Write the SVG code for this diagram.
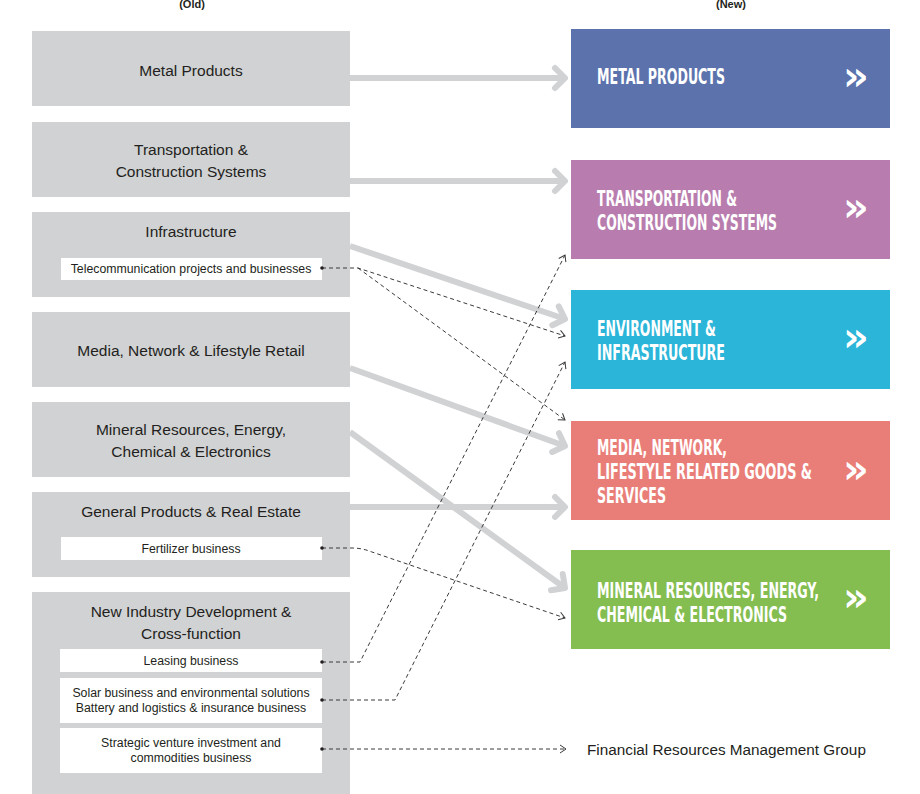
<svg xmlns="http://www.w3.org/2000/svg" width="920" height="794" viewBox="0 0 920 794">
<style>
.old{fill:#d1d2d4}
.sub{fill:#ffffff}
.lt{font-family:"Liberation Sans",Arial,sans-serif;font-size:15.5px;fill:#231f20;text-anchor:middle}
.st{font-family:"Liberation Sans",Arial,sans-serif;font-size:12.3px;fill:#231f20;text-anchor:middle}
.hd{font-family:"Liberation Sans",Arial,sans-serif;font-size:11px;font-weight:bold;fill:#231f20;text-anchor:middle}
.nt{font-family:"DejaVu Sans Condensed","DejaVu Sans",sans-serif;font-stretch:condensed;font-size:21px;font-weight:bold;fill:#ffffff}
.ch{font-family:"DejaVu Sans",sans-serif;font-size:40px;font-weight:bold;fill:#ffffff;text-anchor:middle}
.fin{font-family:"Liberation Sans",Arial,sans-serif;font-size:15.3px;fill:#231f20}
.thick{fill:none;stroke:#d1d2d4;stroke-width:6;marker-end:url(#ga)}
.dash{fill:none;stroke:#3a3a3a;stroke-width:1;stroke-dasharray:4 3;marker-end:url(#da)}
.dot{fill:#231f20}
</style>
<defs>
<marker id="ga" markerUnits="userSpaceOnUse" orient="auto" overflow="visible" refX="0" refY="0" markerWidth="1" markerHeight="1">
<path d="M-10,-10 L0,0 L-10,10" fill="none" stroke="#d1d2d4" stroke-width="6" stroke-linecap="round" stroke-linejoin="round"/>
</marker>
<marker id="da" markerUnits="userSpaceOnUse" orient="auto" overflow="visible" refX="0" refY="0" markerWidth="1" markerHeight="1">
<path d="M-6,-4 L0,0 L-6,4" fill="none" stroke="#3a3a3a" stroke-width="1"/>
</marker>
</defs>
<rect width="920" height="794" fill="#ffffff"/>
<text class="hd" x="192" y="8">(Old)</text>
<text class="hd" x="731" y="8">(New)</text>

<g id="old-metal">
<rect class="old" x="32" y="31" width="318" height="75"/>
<text class="lt" x="191" y="76">Metal Products</text>
</g>
<g id="old-transport">
<rect class="old" x="32" y="122" width="318" height="75"/>
<text class="lt" x="191" y="155">Transportation &amp;</text>
<text class="lt" x="191" y="177">Construction Systems</text>
</g>
<g id="old-infra">
<rect class="old" x="32" y="212" width="318" height="85"/>
<text class="lt" x="191" y="237">Infrastructure</text>
<rect class="sub" x="61" y="258" width="261" height="22"/>
<text class="st" x="191" y="273">Telecommunication projects and businesses</text>
</g>
<g id="old-media">
<rect class="old" x="32" y="312" width="318" height="75"/>
<text class="lt" x="191" y="356">Media, Network &amp; Lifestyle Retail</text>
</g>
<g id="old-mineral">
<rect class="old" x="32" y="402" width="318" height="75"/>
<text class="lt" x="191" y="435">Mineral Resources, Energy,</text>
<text class="lt" x="191" y="457">Chemical &amp; Electronics</text>
</g>
<g id="old-general">
<rect class="old" x="32" y="492" width="318" height="85"/>
<text class="lt" x="191" y="517">General Products &amp; Real Estate</text>
<rect class="sub" x="61" y="537" width="261" height="23"/>
<text class="st" x="191" y="553">Fertilizer business</text>
</g>
<g id="old-newindustry">
<rect class="old" x="32" y="592" width="318" height="202"/>
<text class="lt" x="191" y="617">New Industry Development &amp;</text>
<text class="lt" x="191" y="639">Cross-function</text>
<rect class="sub" x="60" y="649" width="262" height="23"/>
<text class="st" x="191" y="665">Leasing business</text>
<rect class="sub" x="60" y="678" width="262" height="45"/>
<text class="st" x="191" y="697">Solar business and environmental solutions</text>
<text class="st" x="191" y="712">Battery and logistics &amp; insurance business</text>
<rect class="sub" x="60" y="728" width="262" height="45"/>
<text class="st" x="191" y="747">Strategic venture investment and</text>
<text class="st" x="191" y="762">commodities business</text>
</g>

<g id="new-metal">
<rect x="571" y="29" width="319" height="99" fill="#5b72ad"/>
<text class="nt" x="597" y="84" textLength="128" lengthAdjust="spacingAndGlyphs">METAL PRODUCTS</text>
<text class="ch" x="856" y="90">»</text>
</g>
<g id="new-transport">
<rect x="571" y="160" width="319" height="99" fill="#b87dae"/>
<text class="nt" x="597" y="206" textLength="140" lengthAdjust="spacingAndGlyphs">TRANSPORTATION &amp;</text>
<text class="nt" x="597" y="230" textLength="180" lengthAdjust="spacingAndGlyphs">CONSTRUCTION SYSTEMS</text>
<text class="ch" x="856" y="221">»</text>
</g>
<g id="new-env">
<rect x="571" y="290" width="319" height="99" fill="#2bb5d9"/>
<text class="nt" x="597" y="336" textLength="119" lengthAdjust="spacingAndGlyphs">ENVIRONMENT &amp;</text>
<text class="nt" x="597" y="360" textLength="128" lengthAdjust="spacingAndGlyphs">INFRASTRUCTURE</text>
<text class="ch" x="856" y="351">»</text>
</g>
<g id="new-media">
<rect x="571" y="421" width="319" height="99" fill="#e97d78"/>
<text class="nt" x="597" y="455" textLength="130" lengthAdjust="spacingAndGlyphs">MEDIA, NETWORK,</text>
<text class="nt" x="597" y="479" textLength="215" lengthAdjust="spacingAndGlyphs">LIFESTYLE RELATED GOODS &amp;</text>
<text class="nt" x="597" y="503" textLength="69" lengthAdjust="spacingAndGlyphs">SERVICES</text>
<text class="ch" x="856" y="483">»</text>
</g>
<g id="new-mineral">
<rect x="571" y="550" width="319" height="99" fill="#84bd50"/>
<text class="nt" x="597" y="598" textLength="222" lengthAdjust="spacingAndGlyphs">MINERAL RESOURCES, ENERGY,</text>
<text class="nt" x="597" y="622" textLength="190" lengthAdjust="spacingAndGlyphs">CHEMICAL &amp; ELECTRONICS</text>
<text class="ch" x="856" y="611">»</text>
</g>
<g id="new-financial">
<text class="fin" x="587" y="755">Financial Resources Management Group</text>
</g>

<g id="connectors">
<path class="thick" d="M350,78 L565,78"/>
<path class="thick" d="M350,181 L565,181"/>
<path class="thick" d="M350,246 L565,319"/>
<path class="thick" d="M350,368 L565,446"/>
<path class="thick" d="M350,432 L565,588"/>
<path class="thick" d="M350,507 L565,507"/>
<path class="dash" d="M322,268 L358,268 L565,336"/>
<path class="dash" d="M358,268 L565,420"/>
<path class="dash" d="M322,548 L352,548 Q362,548 372,552 L565,618"/>
<path class="dash" d="M322,662 L360,662 L565,255"/>
<path class="dash" d="M322,700 L395,700 L565,362"/>
<path class="dash" d="M322,749 L566,749"/>
<circle class="dot" cx="322" cy="268" r="1.8"/>
<circle class="dot" cx="322" cy="548" r="1.8"/>
<circle class="dot" cx="322" cy="662" r="1.8"/>
<circle class="dot" cx="322" cy="700" r="1.8"/>
<circle class="dot" cx="322" cy="749" r="1.8"/>
</g>
</svg>
